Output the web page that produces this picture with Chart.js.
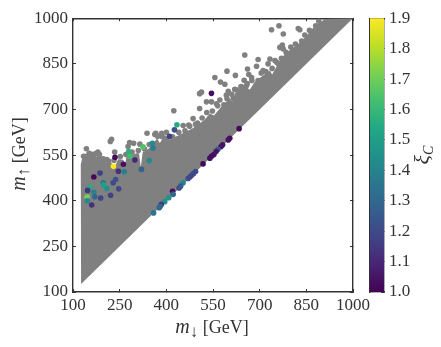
<!doctype html>
<html lang="en">
  <head>
    <meta charset="UTF-8" />
    <title>Scatter of m up against m down</title>
    <script src="https://cdn.jsdelivr.net/npm/chart.js"></script>
    <style>
      body { margin: 0; background: #fff; }
      canvas { position: absolute; top: 0; }
    </style>
  </head>
  <body>
    <canvas id="scatter" width="441" height="347" style="left:0"></canvas>
    <canvas id="colorbar" width="91" height="347" style="left:350px"></canvas>
    <script>
      const axisTicks = [100, 250, 400, 550, 700, 850, 1000]
      const barTicks = [1.0, 1.1, 1.2, 1.3, 1.4, 1.5, 1.6, 1.7, 1.8, 1.9]
      const viridis = ['#440154', '#482475', '#414487', '#355f8d', '#2a788e', '#21918c', '#22a884', '#44bf70', '#7ad151', '#bddf26', '#fde725']

      // upper edge of the solid grey wedge, notches included
      // the shape closes back along the diagonal
      const edgeX = [126, 125, 125, 131, 148, 170, 191, 207, 224, 232, 245, 262, 266, 272, 304, 312, 318, 324, 331, 352, 370, 379, 395, 411, 453, 485, 523, 540, 553, 577, 604, 612, 620, 631, 652, 668, 684, 711, 733, 740, 765, 781, 808, 830, 851, 872, 894, 910, 1000]
      const edgeY = [126, 497, 519, 546, 549, 546, 546, 524, 524, 505, 536, 535, 510, 545, 556, 556, 510, 560, 562, 578, 605, 590, 617, 601, 622, 638, 666, 687, 680, 709, 736, 725, 752, 764, 779, 765, 790, 812, 828, 815, 861, 882, 904, 920, 942, 969, 986, 997, 1000]

      // loose grey points above the wedge, then the ones that roughen its edge
      const greyX = [762, 738, 776, 824, 829, 652, 695, 773, 765, 776, 690, 661, 595, 622, 556, 665, 574, 588, 650, 620, 599, 513, 529, 545, 507, 561, 733, 749, 727, 760, 674, 711, 642, 658, 572, 593, 615, 507, 424, 486, 472, 494, 454, 366, 386, 220, 224, 282, 295, 338, 363, 315, 143, 159, 180, 173, 134, 234, 277, 209, 197,
        140, 152, 165, 185, 200, 215, 232, 252, 270, 290, 310, 330, 345, 372, 385, 400, 420, 440, 460, 475, 500, 515, 530, 548, 565, 585, 595, 610, 625, 640, 660, 675, 695, 705, 720, 740, 755, 770, 785, 800, 815, 835, 845, 860, 880, 890]
      const greyY = [975, 962, 948, 966, 962, 879, 864, 912, 904, 899, 842, 833, 826, 812, 805, 815, 790, 783, 796, 766, 760, 757, 725, 725, 703, 719, 866, 861, 850, 850, 805, 828, 774, 779, 731, 747, 736, 752, 696, 670, 649, 651, 647, 622, 611, 595, 602, 591, 589, 622, 618, 586, 571, 553, 560, 555, 546, 560, 578, 535, 538,
        545, 556, 552, 552, 535, 530, 533, 545, 552, 560, 565, 570, 585, 612, 622, 625, 610, 625, 630, 645, 655, 672, 690, 695, 712, 715, 735, 750, 765, 775, 785, 795, 795, 820, 825, 835, 855, 868, 888, 905, 915, 925, 945, 960, 975, 990]

      // coloured points
      const xiX = [235, 230, 262, 279, 283, 325, 299, 345, 355, 357, 320, 246, 265, 167, 187, 197, 198, 209, 229, 237, 247, 154, 147, 167, 170, 145, 146, 189, 221, 160, 545, 434, 426, 410, 634, 604, 599, 581, 576, 566, 553, 560, 540, 546, 518, 494, 481, 487, 470, 476, 454, 441, 446, 420, 422, 408, 395, 384, 377, 380, 359]
      const xiY = [543, 513, 520, 562, 546, 577, 534, 532, 589, 573, 503, 497, 495, 478, 491, 459, 452, 440, 459, 470, 439, 445, 434, 428, 413, 412, 400, 409, 418, 386, 753, 650, 633, 612, 637, 605, 600, 584, 578, 569, 552, 562, 540, 547, 521, 496, 484, 489, 473, 478, 459, 442, 448, 431, 421, 410, 397, 388, 377, 381, 360]
      const xiC = [1.02, 1.9, 1.03, 1.57, 1.62, 1.65, 1.1, 1.42, 1.42, 1.38, 1.28, 1.12, 1.4, 1.02, 1.17, 1.35, 1.5, 1.45, 1.2, 1.22, 1.2, 1.55, 1.15, 1.4, 1.3, 1.72, 1.42, 1.18, 1.17, 1.12, 1.03, 1.55, 1.22, 1.17, 1.02, 1.03, 1.04, 1.05, 1.05, 1.25, 1.05, 1.05, 1.03, 1.03, 1.02, 1.2, 1.25, 1.2, 1.22, 1.18, 1.4, 1.2, 1.25, 1.03, 1.3, 1.45, 1.45, 1.15, 1.3, 1.3, 1.35]

      const toPoints = (xs, ys) => xs.map((x, i) => ({ x: x, y: ys[i] }))

      const hexToRgb = (hex) => [1, 3, 5].map((i) => parseInt(hex.slice(i, i + 2), 16))

      // same lookup the colour bar shows
      const xiColor = (value) => {
        const pos = ((value - 1) / 0.9) * (viridis.length - 1)
        const i = Math.min(Math.floor(pos), viridis.length - 2)
        const a = hexToRgb(viridis[i])
        const b = hexToRgb(viridis[i + 1])
        const c = a.map((v, k) => Math.round(v + (b[k] - v) * (pos - i)))
        return `rgb(${c[0]},${c[1]},${c[2]})`
      }

      const ink = '#333'
      const serif = '"Liberation Serif", "DejaVu Serif", serif'

      // text with italic letters and subscripts, parts are [text, style, size, dy]
      const drawLabel = (ctx, parts, cx, cy, rotate) => {
        ctx.save()
        ctx.translate(cx, cy)
        ctx.rotate(rotate)
        ctx.fillStyle = ink
        ctx.textBaseline = 'alphabetic'
        ctx.textAlign = 'left'
        let total = 0
        parts.forEach((p) => {
          ctx.font = `${p[1]} ${p[2]}px ${serif}`
          total += ctx.measureText(p[0]).width
        })
        let x = -total / 2
        parts.forEach((p) => {
          ctx.font = `${p[1]} ${p[2]}px ${serif}`
          ctx.fillText(p[0], x, p[3])
          x += ctx.measureText(p[0]).width
        })
        ctx.restore()
      }

      const axisTitles = {
        id: 'axisTitles',
        afterDraw(chart) {
          const ctx = chart.ctx
          drawLabel(ctx, [['m', 'italic', 20, 0], ['↓', 'normal', 17, 4], [' [GeV]', 'normal', 18, 0]], 212, 333, 0)
          drawLabel(ctx, [['m', 'italic', 20, 0], ['↑', 'normal', 17, 4], [' [GeV]', 'normal', 18, 0]], 25, 154, -Math.PI / 2)
        }
      }

      const barTitle = {
        id: 'barTitle',
        afterDraw(chart) {
          drawLabel(chart.ctx, [['ξ', 'italic', 22, 0], ['C', 'italic', 14, 4]], 79, 155, -Math.PI / 2)
        }
      }

      const fixedTicks = (values) => (scale) => {
        scale.ticks = values.map((v) => ({ value: v }))
      }

      const frameAxis = (position, size, showLabels) => ({
        type: 'linear',
        position: position,
        min: 100,
        max: 1000,
        afterBuildTicks: fixedTicks(axisTicks),
        afterFit: (scale) => {
          if (scale.isHorizontal()) scale.height = size
          else scale.width = size
        },
        grid: { drawOnChartArea: false, drawTicks: true, tickLength: -3, color: ink, tickWidth: 1 },
        border: { display: true, color: ink, width: 1.4 },
        ticks: {
          display: showLabels,
          autoSkip: false,
          maxRotation: 0,
          color: ink,
          padding: position === 'bottom' ? 6 : 8,
          callback: (v) => String(v),
          font: { family: serif, size: 17 }
        }
      })

      new Chart(document.getElementById('scatter').getContext('2d'), {
        type: 'scatter',
        data: {
          datasets: [
            {
              data: toPoints(xiX, xiY),
              order: 0,
              pointRadius: 2.8,
              pointBackgroundColor: xiC.map(xiColor),
              pointBorderWidth: 0
            },
            {
              data: toPoints(greyX, greyY),
              order: 1,
              pointRadius: 2.8,
              pointBackgroundColor: '#808080',
              pointBorderWidth: 0
            },
            {
              data: toPoints(edgeX, edgeY),
              order: 2,
              showLine: true,
              pointRadius: 0,
              borderWidth: 0,
              backgroundColor: '#808080',
              fill: 'shape'
            }
          ]
        },
        options: {
          responsive: false,
          animation: false,
          layout: { padding: 0 },
          plugins: { legend: { display: false }, tooltip: { enabled: false } },
          scales: {
            x: frameAxis('bottom', 55, true),
            y: frameAxis('left', 73, true),
            x2: frameAxis('top', 16, false),
            y2: frameAxis('right', 88, false)
          }
        },
        plugins: [axisTitles]
      })

      new Chart(document.getElementById('colorbar').getContext('2d'), {
        type: 'bar',
        data: {
          labels: ['xi'],
          datasets: [
            {
              data: [[barTicks[0], barTicks[barTicks.length - 1]]],
              barPercentage: 1,
              categoryPercentage: 1,
              borderWidth: 0,
              backgroundColor: (context) => {
                const area = context.chart.chartArea
                if (!area) return viridis[0]
                const g = context.chart.ctx.createLinearGradient(0, area.bottom, 0, area.top)
                viridis.forEach((c, i) => g.addColorStop(i / (viridis.length - 1), c))
                return g
              }
            }
          ]
        },
        options: {
          responsive: false,
          animation: false,
          layout: { padding: { left: 20, top: 16, bottom: 55 } },
          plugins: { legend: { display: false }, tooltip: { enabled: false } },
          scales: {
            x: {
              display: true,
              position: 'top',
              afterFit: (scale) => { scale.height = 0 },
              ticks: { display: false },
              grid: { display: false },
              border: { display: true, color: ink, width: 1.4 }
            },
            x2: {
              display: true,
              type: 'category',
              labels: ['xi'],
              position: 'bottom',
              afterFit: (scale) => { scale.height = 0 },
              ticks: { display: false },
              grid: { display: false },
              border: { display: true, color: ink, width: 1.4 }
            },
            yl: {
              display: true,
              position: 'left',
              min: 1,
              max: 1.9,
              afterFit: (scale) => { scale.width = 0 },
              ticks: { display: false },
              grid: { display: false },
              border: { display: true, color: ink, width: 1.4 }
            },
            y: {
              position: 'right',
              min: 1,
              max: 1.9,
              afterBuildTicks: fixedTicks(barTicks),
              afterFit: (scale) => { scale.width = 57 },
              grid: { drawOnChartArea: false, drawTicks: true, tickLength: -3, color: ink, tickWidth: 1 },
              border: { display: true, color: ink, width: 1.4 },
              ticks: {
                autoSkip: false,
                color: ink,
                padding: 8,
                callback: (v) => v.toFixed(1),
                font: { family: serif, size: 17 }
              }
            }
          }
        },
        plugins: [barTitle]
      })
    </script>
  </body>
</html>
